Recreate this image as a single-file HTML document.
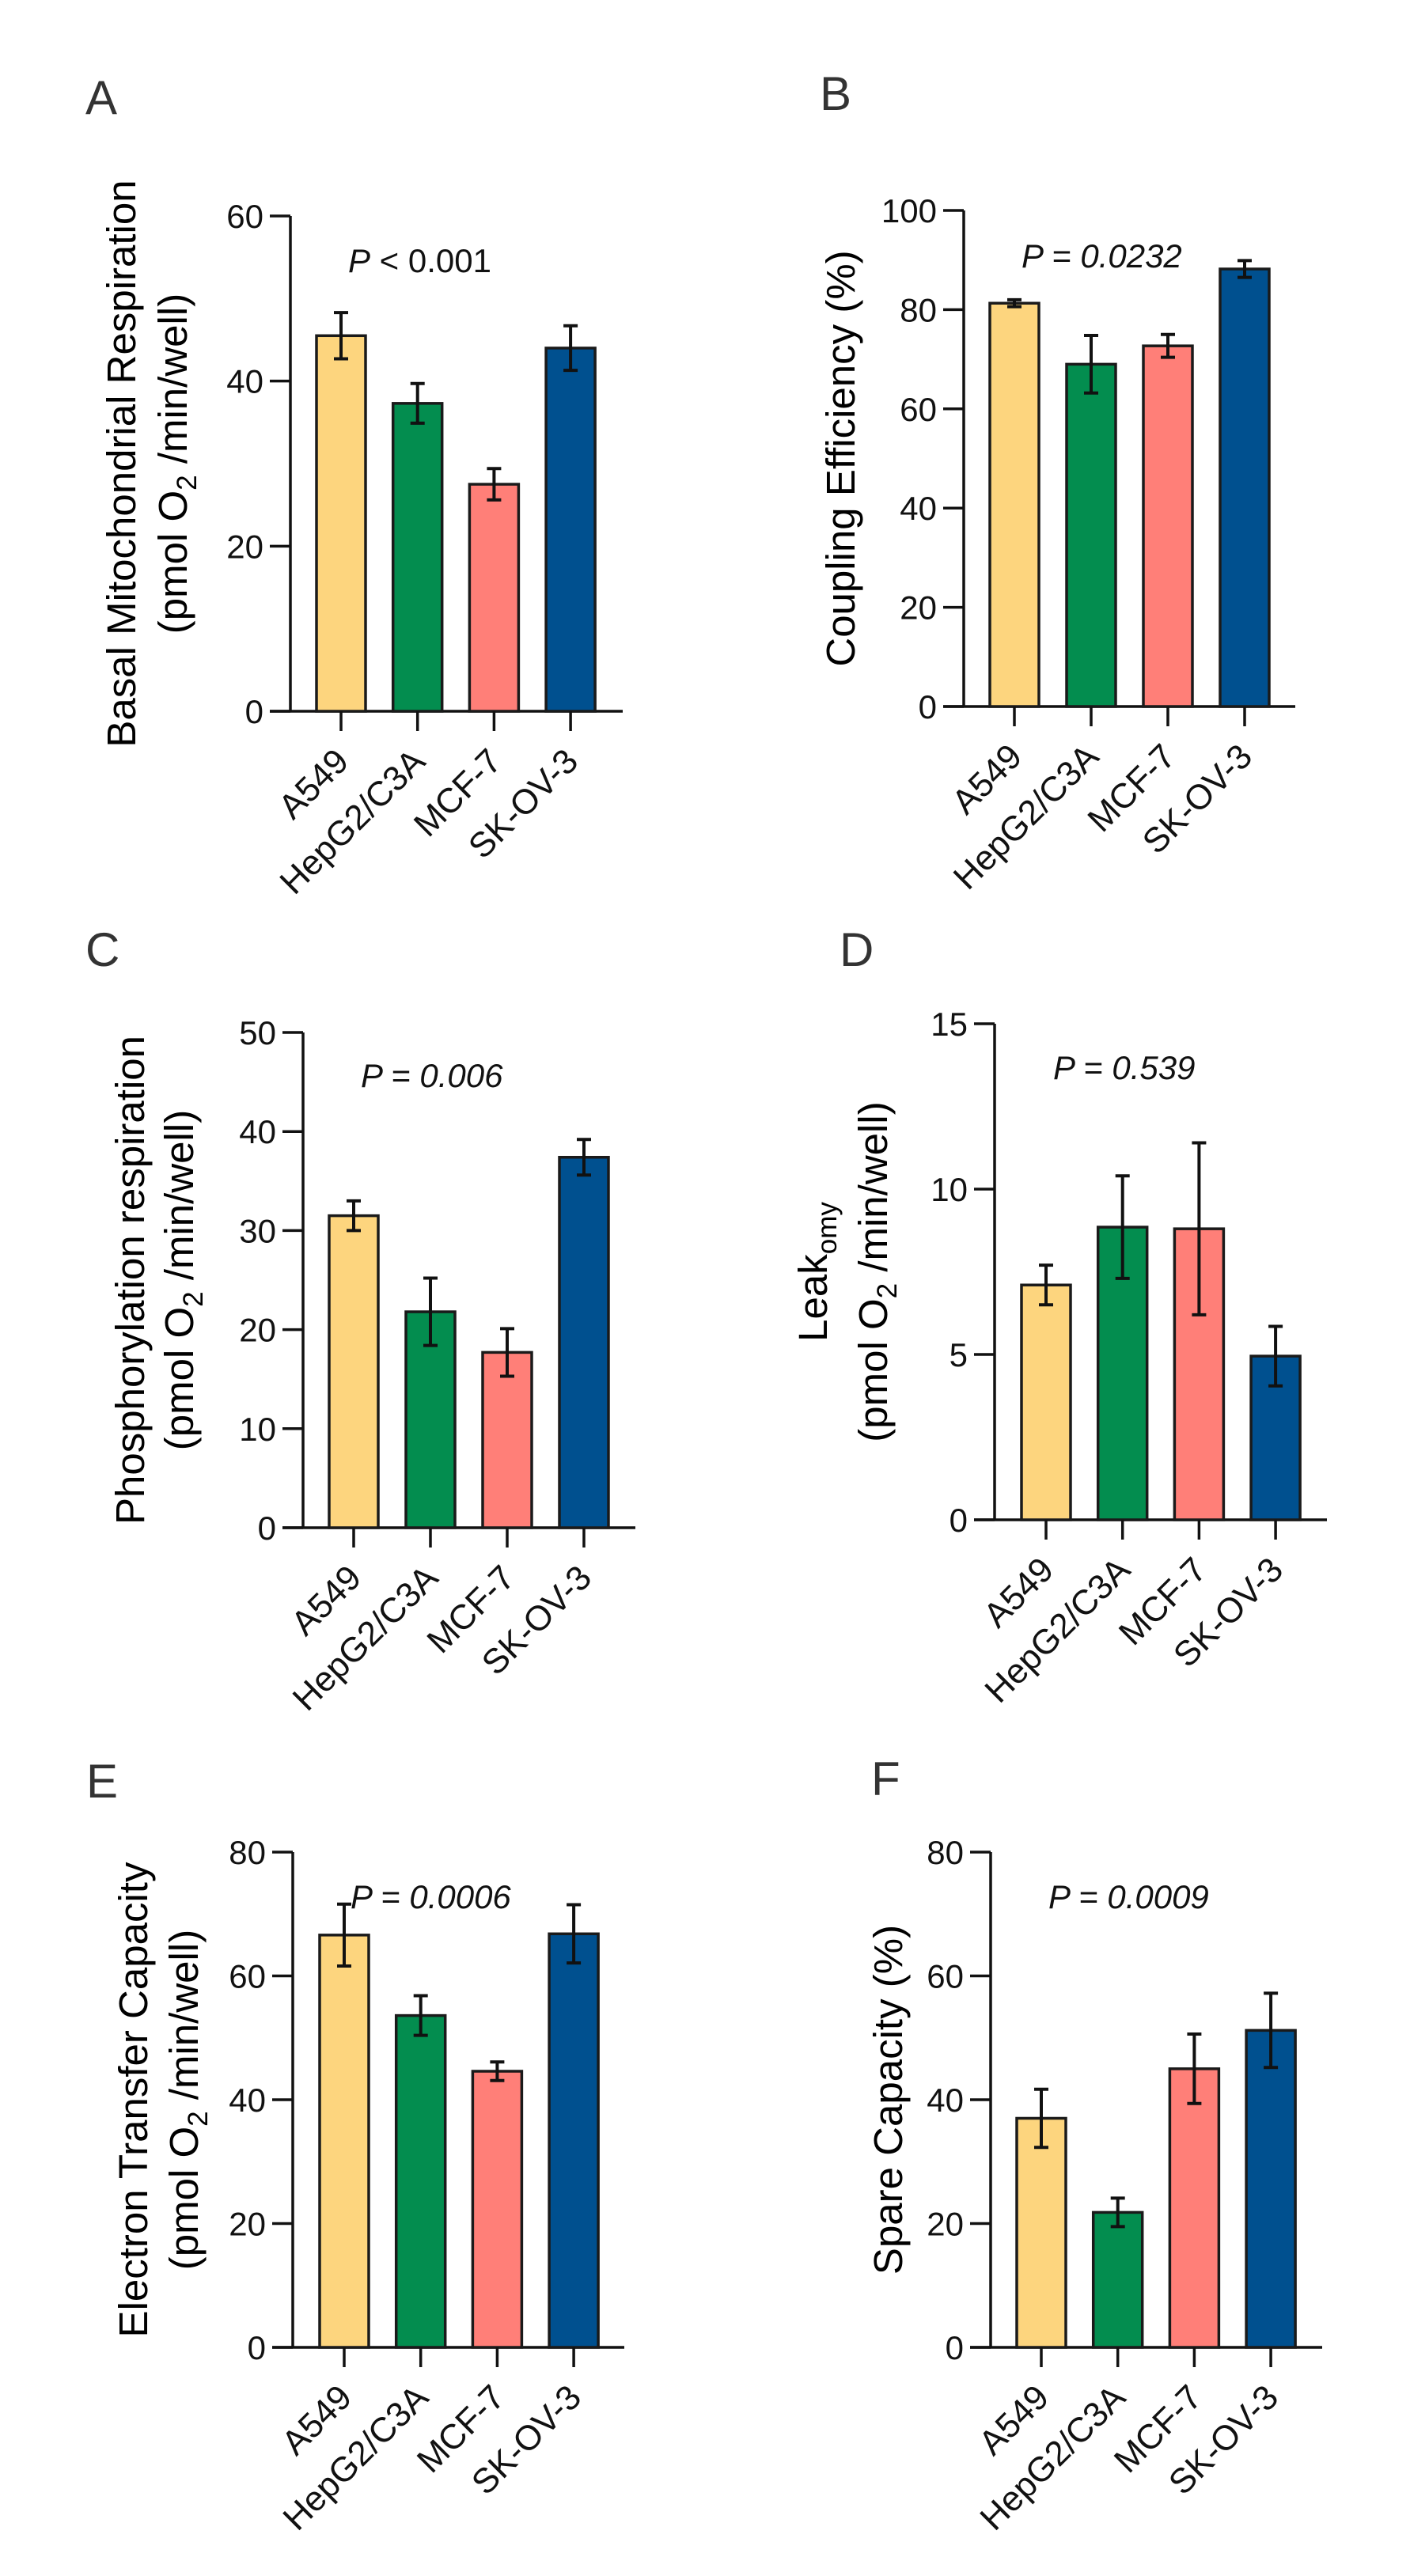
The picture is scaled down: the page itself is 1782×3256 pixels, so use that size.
<!DOCTYPE html>
<html><head><meta charset="utf-8">
<style>
html,body{margin:0;padding:0;background:#fff;}
svg{display:block;font-family:"Liberation Sans",Arial,sans-serif;}
</style></head>
<body>
<svg id="fig" width="1782" height="3256" viewBox="0 0 1782 3256" xmlns="http://www.w3.org/2000/svg"></svg>
<script>
const categories = ["A549", "HepG2/C3A", "MCF-7", "SK-OV-3"];
const barColors = ["#FDD57E", "#038D4F", "#FF7F78", "#00508F"];

const valuesA = [45.5, 37.3, 27.5, 44.0];
const errorsA = [2.8, 2.4, 1.9, 2.7];
const ticksA = [0, 20, 40, 60];

const valuesB = [81.3, 69.0, 72.7, 88.2];
const errorsB = [0.7, 5.8, 2.3, 1.7];
const ticksB = [0, 20, 40, 60, 80, 100];

const valuesC = [31.5, 21.8, 17.7, 37.4];
const errorsC = [1.5, 3.4, 2.4, 1.8];
const ticksC = [0, 10, 20, 30, 40, 50];

const valuesD = [7.1, 8.85, 8.8, 4.95];
const errorsD = [0.6, 1.55, 2.6, 0.9];
const ticksD = [0, 5, 10, 15];

const valuesE = [66.6, 53.6, 44.6, 66.8];
const errorsE = [5.0, 3.2, 1.5, 4.7];
const ticksE = [0, 20, 40, 60, 80];

const valuesF = [37.0, 21.8, 45.0, 51.2];
const errorsF = [4.7, 2.3, 5.6, 6.0];
const ticksF = [0, 20, 40, 60, 80];

const NS = "http://www.w3.org/2000/svg";
const svg = document.getElementById("fig");
function mk(tag, attrs, parent) {
  const e = document.createElementNS(NS, tag);
  for (const k in attrs) e.setAttribute(k, attrs[k]);
  (parent || svg).appendChild(e);
  return e;
}

const panels = [
  {id:"a", letter:"A", lx:108, ly:144, ax:367, y0:899, ytop:273, xr:787, cx0:431, step:96.7,
   vals:valuesA, errs:errorsA, ticks:ticksA, px:440, py:344, pItalicAll:false, pText:"< 0.001",
   title:[["Basal Mitochondrial Respiration"],["(pmol O","2","/min/well)"]], tx:[171,236]},
  {id:"b", letter:"B", lx:1036, ly:139, ax:1218, y0:893, ytop:266, xr:1637, cx0:1282, step:97,
   vals:valuesB, errs:errorsB, ticks:ticksB, px:1291, py:338, pItalicAll:true, pText:"= 0.0232",
   title:[["Coupling Efficiency (%)"]], tx:[1080]},
  {id:"c", letter:"C", lx:108, ly:1221, ax:383, y0:1931, ytop:1305, xr:803, cx0:447, step:97,
   vals:valuesC, errs:errorsC, ticks:ticksC, px:456, py:1374, pItalicAll:true, pText:"= 0.006",
   title:[["Phosphorylation respiration"],["(pmol O","2","/min/well)"]], tx:[182,244]},
  {id:"d", letter:"D", lx:1061, ly:1221, ax:1257, y0:1921, ytop:1294, xr:1677, cx0:1322, step:96.7,
   vals:valuesD, errs:errorsD, ticks:ticksD, px:1331, py:1364, pItalicAll:true, pText:"= 0.539",
   title:[["Leak","omy",""],["(pmol O","2","/min/well)"]], tx:[1045,1121]},
  {id:"e", letter:"E", lx:109, ly:2272, ax:370, y0:2967, ytop:2341, xr:789, cx0:435, step:96.7,
   vals:valuesE, errs:errorsE, ticks:ticksE, px:443, py:2412, pItalicAll:true, pText:"= 0.0006",
   title:[["Electron Transfer Capacity"],["(pmol O","2","/min/well)"]], tx:[186,250]},
  {id:"f", letter:"F", lx:1101, ly:2269, ax:1252, y0:2967, ytop:2341, xr:1671, cx0:1316, step:96.7,
   vals:valuesF, errs:errorsF, ticks:ticksF, px:1325, py:2412, pItalicAll:true, pText:"= 0.0009",
   title:[["Spare Capacity (%)"]], tx:[1140]}
];

panels.forEach(p => {
  const g = mk("g", {});
  
  
  const ymax = p.ticks[p.ticks.length - 1];
  const yS = v => p.y0 - (v / ymax) * (p.y0 - p.ytop);
  const xS = i => p.cx0 + i * p.step;

  const L = mk("text", {x:p.lx, y:p.ly, "font-size":60, fill:"#333"}, g);
  L.textContent = p.letter;
  
  

  const midY = (p.y0 + p.ytop) / 2;
  p.title.forEach((line, li) => {
    const t = mk("text", {x:0, y:0, "font-size":51, fill:"#000", "text-anchor":"middle",
      transform:`translate(${p.tx[li]},${midY}) rotate(-90)`}, g);
    
    
    if (line.length === 1) { t.textContent = line[0]; }
    else {
      const s1 = mk("tspan", {}, t); s1.textContent = line[0];
      const s2 = mk("tspan", {"font-size":35, dy:12}, t); s2.textContent = line[1];
      const s3 = mk("tspan", {dy:-12}, t); s3.textContent = line[2] !== "" ? " " + line[2] : "";
    }
  });

  const ya = mk("line", {x1:p.ax, y1:p.ytop, x2:p.ax, y2:p.y0, stroke:"#111", "stroke-width":3.5}, g);
  
  
  p.ticks.forEach(tv => {
    const y = yS(tv);
    const tk = mk("line", {x1:p.ax - 26, y1:y, x2:p.ax, y2:y, stroke:"#111", "stroke-width":3.5}, g);
    
    
    const tl = mk("text", {x:p.ax - 34, y:y + 15, "font-size":42, "text-anchor":"end", fill:"#111"}, g);
    tl.textContent = tv;
    
    
  });
  const xa = mk("line", {x1:p.ax - 26, y1:p.y0, x2:p.xr, y2:p.y0, stroke:"#111", "stroke-width":3.5}, g);
  
  

  p.vals.forEach((v, i) => {
    const cx = xS(i), w = 62, yt = yS(v);
    const r = mk("rect", {x:cx - w/2, y:yt, width:w, height:p.y0 - yt, fill:barColors[i], stroke:"#1a1a1a", "stroke-width":3.5}, g);
    
    
    const e = p.errs[i];
    const eg = mk("g", {stroke:"#111", "stroke-width":4}, g);
    
    
    mk("line", {x1:cx, y1:yS(v + e), x2:cx, y2:yS(v - e)}, eg);
    mk("line", {x1:cx - 9, y1:yS(v + e), x2:cx + 9, y2:yS(v + e)}, eg);
    mk("line", {x1:cx - 9, y1:yS(v - e), x2:cx + 9, y2:yS(v - e)}, eg);
    const xt = mk("line", {x1:cx, y1:p.y0, x2:cx, y2:p.y0 + 25, stroke:"#111", "stroke-width":3.5}, g);
    
    
    const lab = mk("text", {x:0, y:0, "font-size":44, "text-anchor":"end", fill:"#111",
      transform:`translate(${cx + 12},${p.y0 + 66}) rotate(-45)`}, g);
    lab.textContent = categories[i];
    
    
  });

  const pt = mk("text", {x:p.px, y:p.py, "font-size":42, fill:"#111"}, g);
  
  
  const s1 = mk("tspan", {"font-style":"italic"}, pt); s1.textContent = "P";
  const s2 = mk("tspan", p.pItalicAll ? {"font-style":"italic"} : {}, pt); s2.textContent = " " + p.pText;
});
</script>
</body></html>
